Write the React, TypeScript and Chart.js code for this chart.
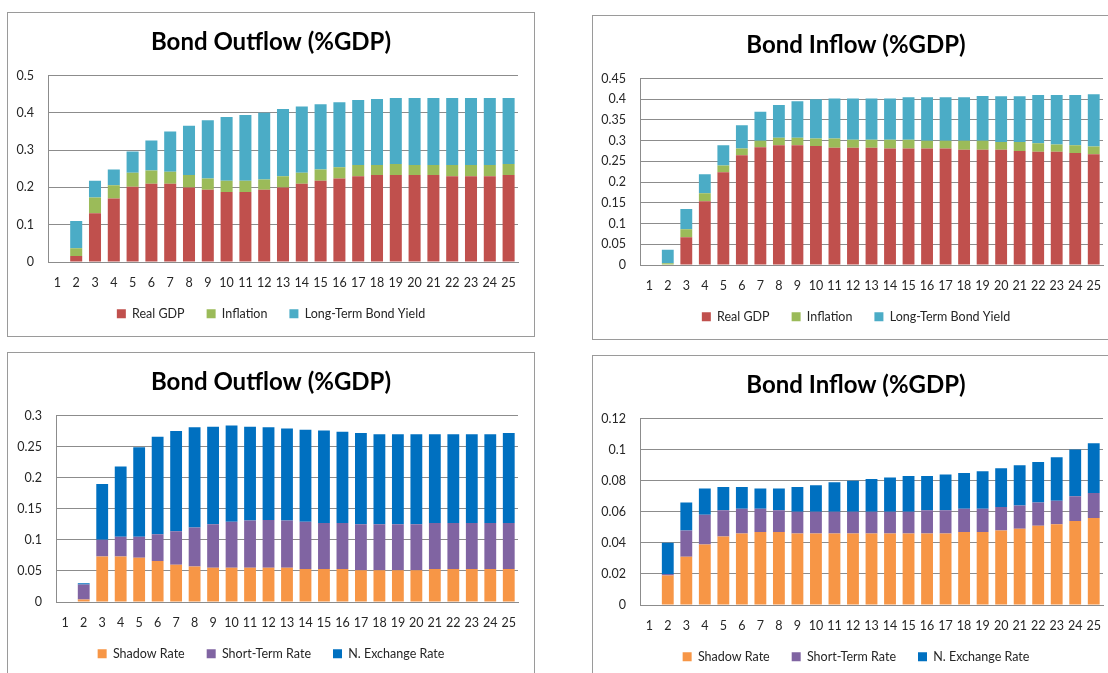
import { useEffect, useRef } from 'react';
import { Chart, registerables } from 'chart.js';

Chart.register(...registerables);

const categories = ['1', '2', '3', '4', '5', '6', '7', '8', '9', '10', '11', '12', '13', '14', '15', '16', '17', '18', '19', '20', '21', '22', '23', '24', '25'];

// Top-left: Bond Outflow (%GDP) decomposition
const outRealGdp = [0, 0.016, 0.131, 0.170, 0.202, 0.210, 0.210, 0.200, 0.194, 0.188, 0.188, 0.194, 0.200, 0.210, 0.218, 0.224, 0.230, 0.233, 0.233, 0.233, 0.233, 0.230, 0.230, 0.230, 0.233];
const outInflation = [0, 0.021, 0.042, 0.036, 0.037, 0.035, 0.032, 0.033, 0.030, 0.030, 0.030, 0.027, 0.030, 0.029, 0.030, 0.030, 0.030, 0.027, 0.030, 0.027, 0.027, 0.030, 0.030, 0.030, 0.030];
const outLongYield = [0, 0.073, 0.045, 0.042, 0.057, 0.081, 0.108, 0.132, 0.156, 0.171, 0.176, 0.179, 0.180, 0.178, 0.175, 0.174, 0.174, 0.177, 0.177, 0.180, 0.180, 0.180, 0.180, 0.180, 0.177];

// Top-right: Bond Inflow (%GDP) decomposition
const inRealGdp = [0, 0.000, 0.067, 0.154, 0.224, 0.265, 0.284, 0.289, 0.289, 0.287, 0.283, 0.283, 0.283, 0.281, 0.281, 0.281, 0.281, 0.278, 0.278, 0.278, 0.275, 0.273, 0.273, 0.270, 0.267];
const inInflation = [0, 0.004, 0.019, 0.019, 0.016, 0.016, 0.016, 0.018, 0.018, 0.018, 0.022, 0.019, 0.019, 0.021, 0.021, 0.019, 0.019, 0.022, 0.022, 0.019, 0.022, 0.021, 0.018, 0.019, 0.019];
const inLongYield = [0, 0.033, 0.049, 0.046, 0.049, 0.056, 0.070, 0.079, 0.088, 0.095, 0.097, 0.100, 0.100, 0.100, 0.103, 0.105, 0.105, 0.105, 0.108, 0.110, 0.110, 0.116, 0.119, 0.121, 0.126];

// Bottom-left: Bond Outflow (%GDP) decomposition
const outShadow = [0, 0.004, 0.073, 0.073, 0.071, 0.066, 0.060, 0.057, 0.055, 0.055, 0.055, 0.055, 0.055, 0.053, 0.053, 0.053, 0.051, 0.051, 0.051, 0.051, 0.053, 0.053, 0.053, 0.053, 0.053];
const outShortRate = [0, 0.024, 0.027, 0.032, 0.034, 0.043, 0.054, 0.063, 0.070, 0.074, 0.076, 0.077, 0.076, 0.076, 0.074, 0.074, 0.074, 0.074, 0.074, 0.074, 0.074, 0.074, 0.074, 0.074, 0.074];
const outExchange = [0, 0.002, 0.090, 0.113, 0.144, 0.157, 0.161, 0.161, 0.157, 0.155, 0.151, 0.149, 0.148, 0.148, 0.149, 0.147, 0.147, 0.145, 0.145, 0.145, 0.143, 0.143, 0.143, 0.143, 0.145];

// Bottom-right: Bond Inflow (%GDP) decomposition
const inShadow = [0, 0.019, 0.031, 0.039, 0.044, 0.046, 0.047, 0.047, 0.046, 0.046, 0.046, 0.046, 0.046, 0.046, 0.046, 0.046, 0.046, 0.047, 0.047, 0.048, 0.049, 0.051, 0.052, 0.054, 0.056];
const inShortRate = [0, 0.001, 0.017, 0.019, 0.017, 0.016, 0.015, 0.014, 0.014, 0.014, 0.014, 0.014, 0.014, 0.014, 0.014, 0.015, 0.015, 0.015, 0.015, 0.015, 0.015, 0.015, 0.015, 0.016, 0.016];
const inExchange = [0, 0.020, 0.018, 0.017, 0.015, 0.014, 0.013, 0.014, 0.016, 0.017, 0.019, 0.020, 0.021, 0.022, 0.023, 0.022, 0.023, 0.023, 0.024, 0.025, 0.026, 0.026, 0.028, 0.030, 0.032];

const namesTop = ['Real GDP', 'Inflation', 'Long-Term Bond Yield'];
const namesBottom = ['Shadow Rate', 'Short-Term Rate', 'N. Exchange Rate'];
const colorsTop = ['#C0504D', '#9BBB59', '#4BACC6'];
const colorsBottom = ['#F79646', '#8064A2', '#0070C0'];

const FONT = 'Lato, "Open Sans", sans-serif';
const PANEL_W = 528;
const PANEL_H = 325;

// Let tick labels draw outside their scale box (the layout here fixes the box sizes).
const noLabelClip = {
  id: 'noLabelClip',
  afterLayout(chart: any) {
    Object.values(chart.scales).forEach((s: any) => {
      s._computeLabelArea = () => undefined;
    });
  },
};

type PanelProps = {
  left: number;
  top: number;
  title: string;
  names: string[];
  colors: string[];
  series: number[][];
  max: number;
  step: number;
  yWidth: number;
};

function Panel({ left, top, title, names, colors, series, max, step, yWidth }: PanelProps) {
  const ref = useRef<HTMLCanvasElement>(null);
  useEffect(() => {
    const chart = new Chart(ref.current as HTMLCanvasElement, {
      type: 'bar',
      data: {
        labels: categories,
        datasets: series.map((d, i) => ({
          label: names[i],
          data: d,
          backgroundColor: colors[i],
          borderWidth: 0,
          categoryPercentage: 0.8,
          barPercentage: 0.8,
        })),
      },
      plugins: [noLabelClip],
      options: {
        responsive: false,
        animation: false,
        devicePixelRatio: 1,
        layout: { padding: { left: 16, right: 16, top: 0, bottom: 6 } },
        plugins: {
          title: {
            display: true,
            text: title,
            color: '#000000',
            font: { family: FONT, size: 24, weight: 'bold', lineHeight: 1.2 },
            padding: { top: 15.3, bottom: 18.4 },
          },
          legend: {
            position: 'bottom',
            labels: {
              boxWidth: 9,
              boxHeight: 9,
              padding: 22,
              color: '#262626',
              font: { family: FONT, size: 12.5 },
            },
          },
          tooltip: { enabled: false },
        },
        scales: {
          x: {
            stacked: true,
            grid: { display: false, drawTicks: false },
            border: { display: true, color: '#8c8c8c', width: 1 },
            ticks: {
              padding: 13.3,
              color: '#262626',
              font: { family: FONT, size: 12.5 },
              maxRotation: 0,
              autoSkip: false,
            },
            afterFit: (s: any) => {
              s.height = 23.5;
            },
          },
          y: {
            stacked: true,
            min: 0,
            max,
            ticks: {
              stepSize: step,
              padding: 14,
              color: '#262626',
              font: { family: FONT, size: 12.5 },
              callback: (v: any) => String(Number(Number(v).toFixed(3))),
            },
            grid: { color: '#8c8c8c', drawTicks: false, lineWidth: 1 },
            border: { display: true, color: '#8c8c8c', width: 1 },
            afterFit: (s: any) => {
              s.width = yWidth;
            },
          },
        },
      },
    } as any);
    return () => chart.destroy();
  }, []);

  return (
    <div
      style={{
        position: 'absolute',
        left,
        top,
        width: PANEL_W,
        height: PANEL_H,
        border: '1px solid #9a9a9a',
        boxSizing: 'border-box',
        background: '#ffffff',
      }}
    >
      <canvas
        ref={ref}
        width={PANEL_W - 2}
        height={PANEL_H - 2}
        style={{ display: 'block', width: PANEL_W - 2, height: PANEL_H - 2 }}
      />
    </div>
  );
}

export default function App() {
  return (
    <div
      style={{
        position: 'fixed',
        left: 0,
        top: 0,
        width: 1108,
        height: 673,
        overflow: 'hidden',
        background: '#ffffff',
      }}
    >
      <Panel left={7} top={12} title="Bond Outflow (%GDP)" names={namesTop} colors={colorsTop}
        series={[outRealGdp, outInflation, outLongYield]} max={0.5} step={0.1} yWidth={24} />
      <Panel left={592} top={15} title="Bond Inflow (%GDP)" names={namesTop} colors={colorsTop}
        series={[inRealGdp, inInflation, inLongYield]} max={0.45} step={0.05} yWidth={31} />
      <Panel left={7} top={352} title="Bond Outflow (%GDP)" names={namesBottom} colors={colorsBottom}
        series={[outShadow, outShortRate, outExchange]} max={0.3} step={0.05} yWidth={32} />
      <Panel left={592} top={355} title="Bond Inflow (%GDP)" names={namesBottom} colors={colorsBottom}
        series={[inShadow, inShortRate, inExchange]} max={0.12} step={0.02} yWidth={31} />
    </div>
  );
}
